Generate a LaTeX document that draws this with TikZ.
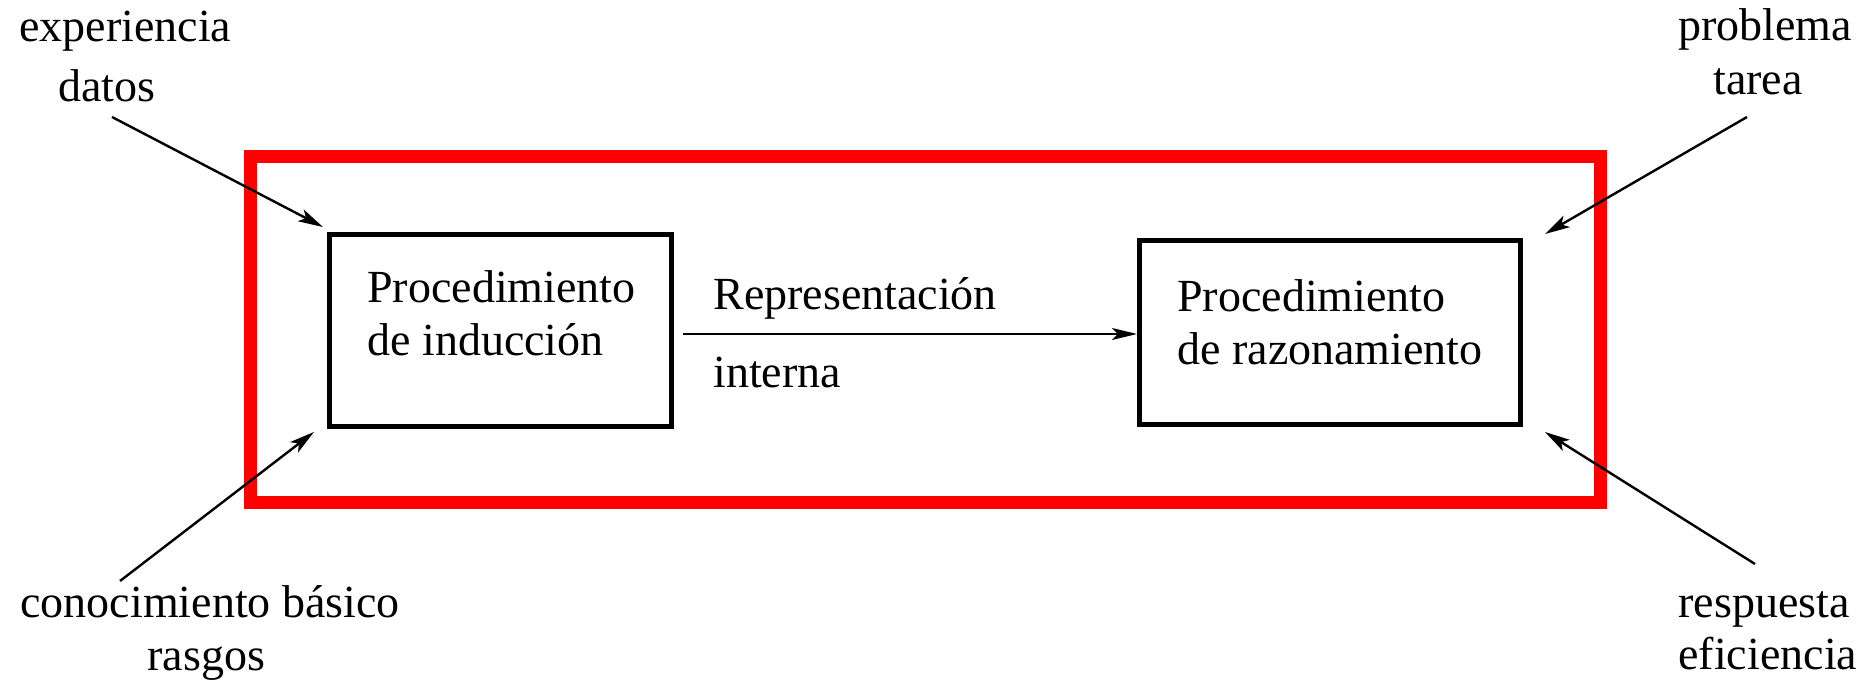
\documentclass[tikz,border=0pt]{standalone}
\usepackage{fontspec}
\setmainfont{Liberation Serif}
\usetikzlibrary{arrows.meta}
\begin{document}
\begin{tikzpicture}[x=0.5pt,y=-0.5pt,
  lbl/.style={anchor=base west,inner sep=0pt,font=\fontsize{23}{26.25}\selectfont},
  procbox/.style={draw=black,line width=2.5pt,rectangle,inner sep=0pt},
  frame/.style={draw=red,line width=6.5pt,rectangle,inner sep=0pt},
  arr/.style={line width=1.2pt,-{Stealth[length=12.5pt,width=6.5pt,inset=3pt]}},
  harr/.style={line width=0.8pt,-{Stealth[length=12.5pt,width=6pt,inset=3pt]}}]
\useasboundingbox (0,0) rectangle (1876,683);
% frame and boxes
\node[frame,minimum width=675pt,minimum height=173pt] (frm) at (925.5,329.5) {};
\node[procbox,minimum width=171pt,minimum height=96pt] (ind) at (500.5,330.5) {};
\node[procbox,minimum width=190.5pt,minimum height=92pt] (raz) at (1330,332.5) {};
% box texts
\node[lbl] (indtxt) at (367,303) {\begin{tabular}[t]{@{}l@{}}Procedimiento\\de inducción\end{tabular}};
\node[lbl] (raztxt) at (1177,312) {\begin{tabular}[t]{@{}l@{}}Procedimiento\\de razonamiento\end{tabular}};
% arrow labels
\node[lbl] (rep) at (713,310) {Representación};
\node[lbl] (intn) at (713,388) {interna};
% outer labels
\node[lbl] (exp) at (19,42) {experiencia};
\node[lbl] (dat) at (58,102) {datos};
\node[lbl] (prob) at (1678,41) {problema};
\node[lbl] (tar) at (1713,95) {tarea};
\node[lbl] (con) at (20,618) {conocimiento básico};
\node[lbl] (ras) at (147,671) {rasgos};
\node[lbl] (resp) at (1678,618) {respuesta};
\node[lbl] (efi) at (1678,670) {eficiencia};
% arrow start points
\coordinate (s1) at (112,117);
\coordinate (s2) at (1747,117);
\coordinate (s3) at (120,581);
\coordinate (s4) at (1755,564);
% arrows
\draw[arr] (s1) -- ([shift={(-2pt,2.5pt)}]ind.north west);
\draw[arr] (s2) -- ([shift={(11pt,2pt)}]raz.north east);
\draw[arr] (s3) -- ([shift={(-6.5pt,-1.5pt)}]ind.south west);
\draw[arr] (s4) -- ([shift={(11pt,-2.5pt)}]raz.south east);
\draw[harr] ([shift={(4.5pt,-1.75pt)}]ind.east) -- ([yshift=-0.75pt]raz.west);
\end{tikzpicture}
\end{document}
